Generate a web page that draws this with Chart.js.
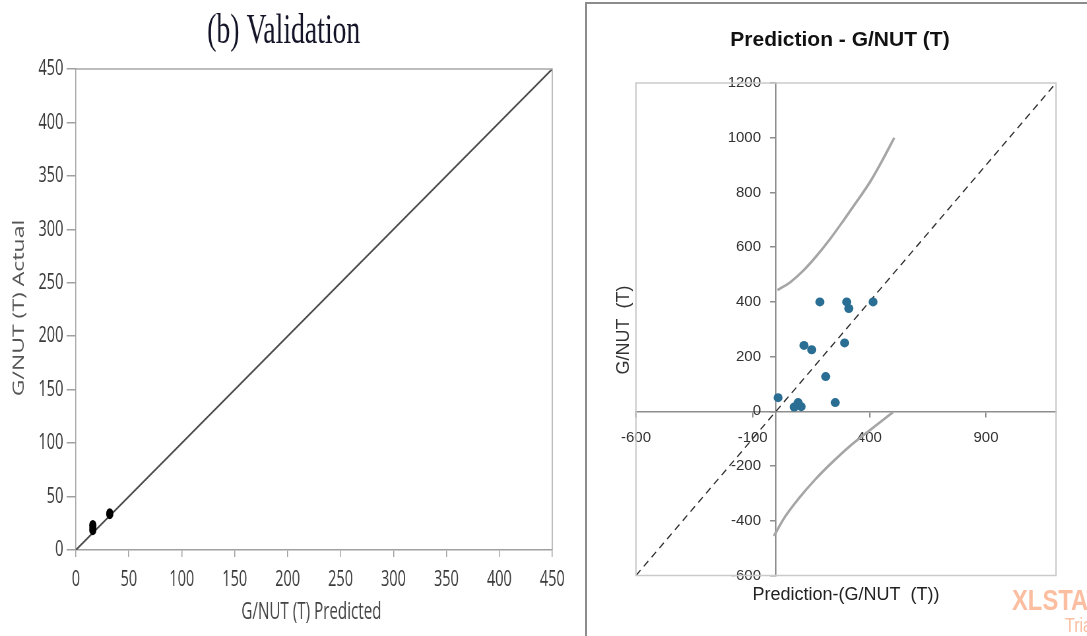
<!DOCTYPE html>
<html>
<head>
<meta charset="utf-8">
<script src="https://cdn.jsdelivr.net/npm/chart.js"></script>
<style>
  html, body { margin: 0; padding: 0; background: #fff; width: 1087px; height: 636px; overflow: hidden; }
  #left { position: absolute; left: 0; top: 0; width: 879px; height: 636px; transform: scaleX(0.6598); transform-origin: 0 0; }
  #right { position: absolute; left: 587px; top: 4px; width: 500px; height: 632px; }
  .frameV { position: absolute; left: 585px; top: 2px; width: 1.5px; height: 634px; background: #8c8c8c; }
  .frameH { position: absolute; left: 585px; top: 2px; width: 502px; height: 1.5px; background: #8c8c8c; }
  .wm { position: absolute; left: 1012px; top: 584px; color: #fbbea0; font-family: "Liberation Sans", Arial, sans-serif; font-weight: bold; font-size: 29px; transform: scaleX(0.82); transform-origin: 0 0; white-space: nowrap; }
  .wm2 { position: absolute; left: 1065px; top: 614px; color: #fbbea0; font-family: "Liberation Sans", Arial, sans-serif; font-size: 20px; transform: scaleX(0.8); transform-origin: 0 0; white-space: nowrap; }
</style>
</head>
<body>
<div id="left"><canvas id="chartValidation"></canvas></div>
<div class="frameV"></div>
<div class="frameH"></div>
<div id="right"><canvas id="chartPrediction"></canvas></div>
<div class="wm">XLSTAT</div>
<div class="wm2">Trial</div>
<script>
// ---- (b) Validation ----
const valPredicted = [16, 16, 32];
const valActual = [19, 23, 34];
const valLine = [0, 450];

// ---- Prediction - G/NUT (T) ----
const predX = [188, 303, 312, 416, 120, 153, 294, 213, 9, 254, 78, 95, 108];
const predY = [400, 400, 376, 400, 241, 225, 250, 127, 50, 32, 16, 32, 17];
const upperX = [6, 60, 117, 174, 231, 288, 343, 405, 462, 507];
const upperY = [443, 471, 514, 568, 629, 696, 763, 841, 927, 1000];
const lowerX = [-9, 39, 96, 167, 239, 310, 381, 453, 502];
const lowerY = [-455, -385, -320, -250, -188, -132, -83, -35, -3];
const diagLine = [-600, 1200];
const xTicksPred = [-600, -100, 400, 900];

const toPoints = (xs, ys) => xs.map((x, i) => ({ x: x, y: ys[i] }));

// box around the plot + free texts (titles)
const decor = {
  id: "decor",
  afterDraw(chart, args, opts) {
    const ctx = chart.ctx;
    const a = chart.chartArea;
    ctx.save();
    ctx.strokeStyle = opts.boxColor;
    ctx.lineWidth = opts.boxWidth;
    ctx.beginPath();
    if (opts.fullBox) {
      ctx.rect(a.left, a.top, a.right - a.left, a.bottom - a.top);
    } else {
      ctx.moveTo(a.left, a.top);
      ctx.lineTo(a.right, a.top);
      ctx.lineTo(a.right, a.bottom);
    }
    ctx.stroke();
    (opts.texts || []).forEach(t => {
      ctx.save();
      ctx.font = t.font;
      ctx.fillStyle = t.color;
      ctx.textAlign = "center";
      ctx.textBaseline = "alphabetic";
      ctx.translate(t.x, t.y);
      if (t.rotate) ctx.rotate(t.rotate);
      ctx.fillText(t.text, 0, 0);
      ctx.restore();
    });
    ctx.restore();
  }
};

new Chart(document.getElementById("chartValidation"), {
  type: "scatter",
  data: {
    datasets: [
      {
        data: toPoints(valPredicted, valActual),
        backgroundColor: "#000",
        borderWidth: 0,
        pointRadius: 5.5
      },
      {
        data: toPoints(valLine, valLine),
        showLine: true,
        borderColor: "#4a4a4a",
        borderWidth: 2,
        pointRadius: 0
      }
    ]
  },
  options: {
    animation: false,
    responsive: true,
    maintainAspectRatio: false,
    layout: { padding: { top: 69, right: 42, left: 0, bottom: 0 } },
    plugins: {
      legend: { display: false },
      tooltip: { enabled: false },
      decor: {
        boxColor: "#a8a8a8",
        boxWidth: 1.5,
        fullBox: false,
        texts: [
          { text: "(b) Validation", x: 430, y: 43, font: "42px 'Liberation Serif', 'Times New Roman', serif", color: "#141428" },
          { text: "G/NUT (T) Actual", x: 36, y: 308, rotate: -Math.PI / 2, font: "23px 'Open Sans', sans-serif", color: "#555" },
          { text: "G/NUT (T) Predicted", x: 472, y: 619, font: "23px 'Open Sans', sans-serif", color: "#444" }
        ]
      }
    },
    scales: {
      x: {
        type: "linear",
        min: 0,
        max: 450,
        ticks: { stepSize: 50, color: "#3a3a3a", font: { family: "'Open Sans', sans-serif", size: 22 }, padding: 10 },
        grid: { drawOnChartArea: false, tickLength: 7, color: "#a0a0a0", lineWidth: 1.5 },
        border: { color: "#a0a0a0", width: 1.5 },
        afterFit: s => { s.height = 86; }
      },
      y: {
        type: "linear",
        min: 0,
        max: 450,
        ticks: { stepSize: 50, color: "#3a3a3a", font: { family: "'Open Sans', sans-serif", size: 22 }, padding: 5 },
        grid: { drawOnChartArea: false, tickLength: 14, color: "#a0a0a0", lineWidth: 1.5 },
        border: { color: "#a0a0a0", width: 1.5 },
        afterFit: s => { s.width = 115; }
      }
    }
  },
  plugins: [decor]
});

new Chart(document.getElementById("chartPrediction"), {
  type: "scatter",
  data: {
    datasets: [
      {
        data: toPoints(predX, predY),
        backgroundColor: "#2a6e94",
        borderWidth: 0,
        pointRadius: 4.5
      },
      {
        data: toPoints(diagLine, diagLine),
        showLine: true,
        borderColor: "#333",
        borderWidth: 1.3,
        borderDash: [7, 5],
        pointRadius: 0
      },
      {
        data: toPoints(upperX, upperY),
        showLine: true,
        borderColor: "#a6a6a6",
        borderWidth: 2.5,
        cubicInterpolationMode: "monotone",
        pointRadius: 0
      },
      {
        data: toPoints(lowerX, lowerY),
        showLine: true,
        borderColor: "#a6a6a6",
        borderWidth: 2.5,
        cubicInterpolationMode: "monotone",
        pointRadius: 0
      }
    ]
  },
  options: {
    animation: false,
    responsive: true,
    maintainAspectRatio: false,
    layout: { padding: { left: 49, right: 31, top: 79, bottom: 60.5 } },
    plugins: {
      legend: { display: false },
      tooltip: { enabled: false },
      decor: {
        boxColor: "#cacaca",
        boxWidth: 1.5,
        fullBox: true,
        texts: [
          { text: "Prediction - G/NUT (T)", x: 253, y: 42, font: "bold 21px 'Liberation Sans Narrow', 'Liberation Sans', Arial, sans-serif", color: "#111" },
          { text: "G/NUT  (T)", x: 42, y: 326, rotate: -Math.PI / 2, font: "18px 'Liberation Sans', Arial, sans-serif", color: "#333" },
          { text: "Prediction-(G/NUT  (T))", x: 259, y: 596, font: "18px 'Liberation Sans', Arial, sans-serif", color: "#222" }
        ]
      }
    },
    scales: {
      x: {
        type: "linear",
        min: -600,
        max: 1200,
        position: { y: 0 },
        afterBuildTicks: s => { s.ticks = xTicksPred.map(v => ({ value: v })); },
        ticks: { color: "#333", font: { family: "'Liberation Sans', Arial, sans-serif", size: 15 }, padding: 13 },
        grid: { drawOnChartArea: false, tickLength: 5, color: "#8e8e8e", lineWidth: 1.5 },
        border: { color: "#8e8e8e", width: 1.5 }
      },
      y: {
        type: "linear",
        min: -600,
        max: 1200,
        position: { x: 0 },
        ticks: {
          stepSize: 200,
          color: "#333",
          font: { family: "'Liberation Sans', Arial, sans-serif", size: 15 },
          // labels sit right-aligned on the axis line here, so pad them with en spaces
          callback: v => String(v) + "\u2002\u2002"
        },
        grid: { drawOnChartArea: false, tickLength: 5, color: "#8e8e8e", lineWidth: 1.5 },
        border: { color: "#8e8e8e", width: 1.5 }
      }
    }
  },
  plugins: [decor]
});
</script>
</body>
</html>
